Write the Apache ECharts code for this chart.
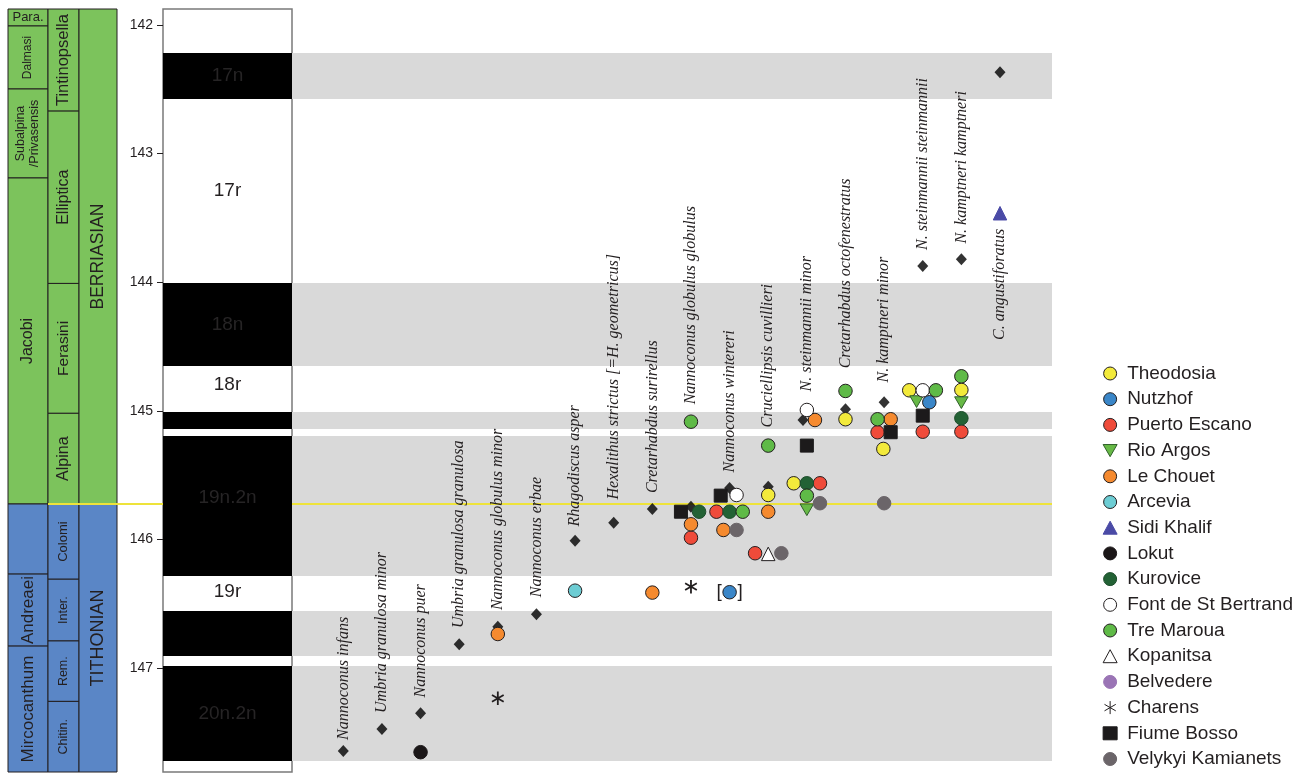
<!DOCTYPE html>
<html><head><meta charset="utf-8">
<script src="https://cdn.jsdelivr.net/npm/echarts@6/dist/echarts.min.js"></script>
<style>html,body{margin:0;padding:0;background:#fff}#c{width:1311px;height:773px}</style>
</head><body><div id="c"></div>
<script>
// ---------- axis ----------
const AGE_MIN = 141.876, AGE_MAX = 147.809;
const ageTicks = [142, 143, 144, 145, 146, 147];
const stageBoundary = 145.725;

// ---------- stratigraphic columns (base ages; top = previous base) ----------
const ammoniteZones = ['Para.', 'Dalmasi', 'Subalpina\n/Privasensis', 'Jacobi', '', 'Andreaei', 'Mircocanthum'];
const ammoniteBases = [142.008, 142.498, 143.19, 145.725, 146.27, 146.83, 147.809];
const calpZones = ['Tintinopsella', 'Elliptica', 'Ferasini', 'Alpina', 'Colomi', 'Inter.', 'Rem.', 'Chitin.'];
const calpBases = [142.67, 144.01, 145.02, 145.725, 146.31, 146.79, 147.26, 147.809];
const stageNames = ['BERRIASIAN', 'TITHONIAN'];
const stageBases = [145.725, 147.809];

// ---------- magnetostratigraphy ----------
const chronBounds = [141.876, 142.218, 142.575, 144.006, 144.652, 145.009, 145.142, 145.196, 146.285, 146.557, 146.907, 146.984, 147.723, 147.809];
const chronPolarity = ['r', 'n', 'r', 'n', 'r', 'n', 'r', 'n', 'r', 'n', 'r', 'n', 'r'];
const chronLabels = ['17n', '17r', '18n', '18r', '19n.2n', '19r', '20n.2n'];
const chronLabelAges = [142.396, 143.29, 144.329, 144.80, 145.68, 146.41, 147.36];
const chronLabelNormal = [true, false, true, false, true, false, true];

// ---------- species ----------
const species = ['Nannoconus infans', 'Umbria granulosa minor', 'Nannoconus puer', 'Umbria granulosa granulosa',
  'Nannoconus globulus minor', 'Nannoconus erbae', 'Rhagodiscus asper', 'Hexalithus strictus [=H. geometricus]',
  'Cretarhabdus surirellus', 'Nannoconus globulus globulus', 'Nannoconus wintereri', 'Cruciellipsis cuvillieri',
  'N. steinmannii minor', 'Cretarhabdus octofenestratus', 'N. kamptneri minor', 'N. steinmannii steinmannii',
  'N. kamptneri kamptneri', 'C. angustiforatus'];
const speciesLabelAges = [147.56, 147.35, 147.23, 146.69, 146.55, 146.45, 145.90, 145.69, 145.64, 144.95,
  145.48, 145.13, 144.85, 144.67, 144.78, 143.75, 143.70, 144.45];

// [species index, lateral offset within column, age Ma]
const referenceFO = [[0,0,147.645],[1,0,147.474],[2,0,147.352],[3,0,146.816],[4,0,146.679],[5,0,146.582],
  [6,0,146.010],[7,0,145.870],[8,0,145.764],[9,0,145.746],[10,0,145.600],[11,0,145.590],[12,-0.1,145.072],
  [13,0,144.988],[14,0,144.934],[15,0,143.874],[16,0,143.822],[17,0,142.368]];
const theodosia = [[11,0,145.655],[12,-0.34,145.564],[13,0,145.066],[14,-0.02,145.297],[15,-0.35,144.841],[16,0,144.838]];
const nutzhof = [[10,0,146.411],[15,0.17,144.934]];
const nutzhofBracketed = [true, false];
const puertoEscano = [[9,0,145.987],[10,-0.34,145.785],[11,-0.34,146.108],[12,0.34,145.564],[14,-0.17,145.167],[15,0,145.163],[16,0,145.163]];
const rioArgos = [[12,0,145.77],[15,-0.16,144.929],[16,0,144.937]];
const leChouet = [[4,0,146.736],[8,0,146.414],[9,0,145.883],[10,-0.16,145.927],[11,0,145.785],[12,0.21,145.072],[14,0.17,145.066]];
const arcevia = [[6,0,146.399]];
const sidiKhalif = [[17,0,143.464]];
const lokut = [[2,0,147.655]];
const kurovice = [[9,0.21,145.785],[10,0,145.785],[12,0,145.564],[16,0,145.058]];
const fontDeStBertrand = [[10,0.18,145.655],[12,0,144.994],[15,0,144.841]];
const treMaroua = [[9,0,145.085],[10,0.34,145.785],[11,0,145.271],[12,0,145.660],[13,0,144.846],[14,-0.17,145.066],[15,0.34,144.841],[16,0,144.732]];
const kopanitsa = [[11,0,146.113]];
const belvedere = [];
const charens = [[4,0,147.236],[9,0,146.368]];
const fiumeBosso = [[9,-0.26,145.785],[10,-0.23,145.660],[12,0,145.271],[14,0.17,145.167],[15,0,145.038]];
const velykyiKamianets = [[10,0.18,145.927],[11,0.34,146.108],[12,0.34,145.719],[14,0,145.719]];

const siteNames = ['Theodosia','Nutzhof','Puerto Escano','Rio Argos','Le Chouet','Arcevia','Sidi Khalif','Lokut',
  'Kurovice','Font de St Bertrand','Tre Maroua','Kopanitsa','Belvedere','Charens','Fiume Bosso','Velykyi Kamianets'];
const siteData = [theodosia, nutzhof, puertoEscano, rioArgos, leChouet, arcevia, sidiKhalif, lokut,
  kurovice, fontDeStBertrand, treMaroua, kopanitsa, belvedere, charens, fiumeBosso, velykyiKamianets];

// ---------- styles ----------
const INK = '#231f20', GREEN = '#7cc35c', BLUE = '#5a86c6', GRAY = '#d9d9d9';
const SANS = '"Liberation Sans", Arial, sans-serif';
const DOWN_TRI = 'path://M0,0L10,0L5,8.66Z';
const ASTERISK = 'path://M5,0L5,10M0.67,2.5L9.33,7.5M0.67,7.5L9.33,2.5';
const siteStyle = [
  {symbol:'circle', color:'#f3ea3b', border:INK},
  {symbol:'circle', color:'#3a86c8', border:INK},
  {symbol:'circle', color:'#ef4b3a', border:INK},
  {symbol:DOWN_TRI, color:'#67b946', border:'#2f5f2a'},
  {symbol:'circle', color:'#f58a2f', border:INK},
  {symbol:'circle', color:'#6dcdd4', border:INK},
  {symbol:'triangle', color:'#4a4aa6', border:'#4a4aa6'},
  {symbol:'circle', color:'#1b1718', border:'#1b1718'},
  {symbol:'circle', color:'#236235', border:'#1d4d2b'},
  {symbol:'circle', color:'#ffffff', border:INK},
  {symbol:'circle', color:'#5fba47', border:INK},
  {symbol:'triangle', color:'#ffffff', border:INK},
  {symbol:'circle', color:'#9a74b5', border:'#9a74b5'},
  {symbol:ASTERISK, color:'none', border:INK},
  {symbol:'rect', color:'#1c1a1b', border:'#1c1a1b'},
  {symbol:'circle', color:'#6b6569', border:'#6b6569'}
];
const zoneFont = {'Para.':13,'Dalmasi':12,'Subalpina\n/Privasensis':12.5,'Colomi':13,'Inter.':12.5,'Rem.':12.5,'Chitin.':12.5,
  'Jacobi':16,'Andreaei':17,'Mircocanthum':17,'Tintinopsella':16.5,'Elliptica':16,'Ferasini':15.5,'Alpina':16,
  'BERRIASIAN':17.5,'TITHONIAN':18};

// ---------- layout ----------
const TOP = 9, H = 763;
const grids = [
  {left:8, top:TOP, width:40, height:H},
  {left:48, top:TOP, width:31, height:H},
  {left:79, top:TOP, width:38, height:H},
  {left:163, top:TOP, width:129, height:H, show:true, borderColor:'#7a7a7a', borderWidth:1.5, backgroundColor:'#fff'},
  {left:292, top:TOP, width:760, height:H},
  {left:48, top:TOP, width:1004, height:H}
];
const xAxes = grids.map((g, i) => i === 4
  ? {gridIndex:i, type:'value', min:-1.328, max:18.346, show:false}
  : {gridIndex:i, type:'value', min:0, max:1, show:false});
const yAxes = grids.map((g, i) => i === 3
  ? {gridIndex:i, type:'value', inverse:true, min:AGE_MIN, max:AGE_MAX,
     axisLine:{show:false}, splitLine:{show:false},
     axisTick:{show:true, length:6, lineStyle:{color:INK, width:1}, customValues:ageTicks},
     axisLabel:{customValues:ageTicks, margin:10, fontSize:14, color:INK, fontFamily:SANS}}
  : {gridIndex:i, type:'value', inverse:true, min:AGE_MIN, max:AGE_MAX, show:false});

function zoneSeries(gi, names, bases) {
  return {
    type:'custom', xAxisIndex:gi, yAxisIndex:gi, z:2, clip:false, silent:true,
    data: bases.map(b => [0.5, b]),
    renderItem: (params, api) => {
      const i = params.dataIndex;
      const top = i === 0 ? AGE_MIN : bases[i - 1];
      const cs = params.coordSys;
      const y0 = api.coord([0.5, top])[1], y1 = api.coord([0.5, bases[i]])[1];
      const fill = bases[i] <= stageBoundary + 1e-6 ? GREEN : BLUE;
      const ch = [{type:'rect', shape:{x:cs.x, y:y0, width:cs.width, height:y1 - y0},
        style:{fill:fill, stroke:INK, lineWidth:1}}];
      const name = names[i];
      if (name) {
        ch.push({type:'text', x:cs.x + cs.width / 2, y:(y0 + y1) / 2,
          rotation:(y1 - y0) > 25 ? Math.PI / 2 : 0,
          style:{text:name, fontSize:zoneFont[name] || 14, fontFamily:SANS, fill:INK,
            align:'center', verticalAlign:'middle', lineHeight:14}});
      }
      return {type:'group', children:ch};
    }
  };
}

const series = [
  zoneSeries(0, ammoniteZones, ammoniteBases),
  zoneSeries(1, calpZones, calpBases),
  zoneSeries(2, stageNames, stageBases),
  // magnetic polarity column
  {type:'custom', xAxisIndex:3, yAxisIndex:3, z:4, silent:true,
   data: chronPolarity.map((p, i) => [0.5, chronBounds[i]]),
   renderItem: (params, api) => {
     const i = params.dataIndex;
     if (chronPolarity[i] !== 'n') return null;
     const cs = params.coordSys;
     const y0 = api.coord([0.5, chronBounds[i]])[1], y1 = api.coord([0.5, chronBounds[i + 1]])[1];
     return {type:'rect', shape:{x:cs.x, y:y0, width:cs.width, height:y1 - y0}, style:{fill:'#000'}};
   }},
  {type:'custom', xAxisIndex:3, yAxisIndex:3, z:5, silent:true,
   data: chronLabelAges.map(a => [0.5, a]),
   renderItem: (params, api) => {
     const p = api.coord([0.5, api.value(1)]);
     return {type:'text', x:p[0], y:p[1], style:{text:chronLabels[params.dataIndex], fontSize:19, fontFamily:SANS,
       fill: chronLabelNormal[params.dataIndex] ? '#262425' : INK, align:'center', verticalAlign:'middle'}};
   }},
  // gray bands in data area
  {type:'custom', xAxisIndex:4, yAxisIndex:4, z:1, silent:true,
   data: chronPolarity.map((p, i) => [0, chronBounds[i]]),
   renderItem: (params, api) => {
     const i = params.dataIndex;
     if (chronPolarity[i] !== 'n') return null;
     const cs = params.coordSys;
     const y0 = api.coord([0, chronBounds[i]])[1], y1 = api.coord([0, chronBounds[i + 1]])[1];
     return {type:'rect', shape:{x:cs.x, y:y0, width:cs.width, height:y1 - y0}, style:{fill:GRAY}};
   }},
  // Jurassic/Cretaceous boundary line
  {type:'custom', xAxisIndex:5, yAxisIndex:5, z:3, silent:true, clip:false,
   data: [[0.5, stageBoundary]],
   renderItem: (params, api) => {
     const cs = params.coordSys;
     const y = api.coord([0.5, api.value(1)])[1];
     return {type:'line', shape:{x1:cs.x, y1:y, x2:cs.x + cs.width, y2:y}, style:{stroke:'#eee33a', lineWidth:2.2}};
   }},
  // species names
  {type:'custom', xAxisIndex:4, yAxisIndex:4, z:6, silent:true, clip:false,
   data: species.map((s, i) => [i, speciesLabelAges[i]]),
   renderItem: (params, api) => {
     const p = api.coord([api.value(0), api.value(1)]);
     return {type:'text', x:p[0], y:p[1], rotation:Math.PI / 2,
       style:{text:species[params.dataIndex], fontSize:16, fontStyle:'italic',
         fontFamily:'"Liberation Serif", "Times New Roman", serif', fill:INK, align:'left', verticalAlign:'middle'}};
   }},
  // reference diamonds
  {name:'reference', type:'scatter', xAxisIndex:4, yAxisIndex:4, z:4, silent:true,
   symbol:'diamond', symbolSize:[11, 12], itemStyle:{color:'#000'},
   data: referenceFO.map(d => [d[0] + d[1], d[2]])}
];

siteNames.forEach((name, si) => {
  const st = siteStyle[si];
  const data = siteData[si].map((d, k) => {
    const item = {value:[d[0] + d[1], d[2]]};
    if (si === 1 && nutzhofBracketed[k]) {
      item.label = {show:true, position:'inside', formatter:'[   ]', fontSize:19, color:INK, fontFamily:SANS};
    }
    return item;
  });
  series.push({
    name:name, type:'scatter', xAxisIndex:4, yAxisIndex:4, z:5, silent:true,
    symbol:st.symbol, symbolSize: st.symbol === 'rect' ? 13 : 13.5, symbolKeepAspect:true,
    itemStyle:{color:st.color, borderColor:st.border, borderWidth: st.symbol === ASTERISK ? 1.8 : 1, opacity:1},
    data:data
  });
});

const chart = echarts.init(document.getElementById('c'), null, {renderer:'canvas'});
chart.setOption({
  animation:false,
  backgroundColor:'#fff',
  grid:grids, xAxis:xAxes, yAxis:yAxes,
  legend:{data:siteNames, orient:'vertical', left:1102, top:364, padding:0,
    itemWidth:14, itemHeight:13, itemGap:6.7, selectedMode:false, symbolKeepAspect:true,
    itemStyle:{borderWidth:1},
    textStyle:{fontSize:19, color:INK, fontFamily:SANS, padding:[0, 0, 0, 5]}},
  series:series
});
</script></body></html>
